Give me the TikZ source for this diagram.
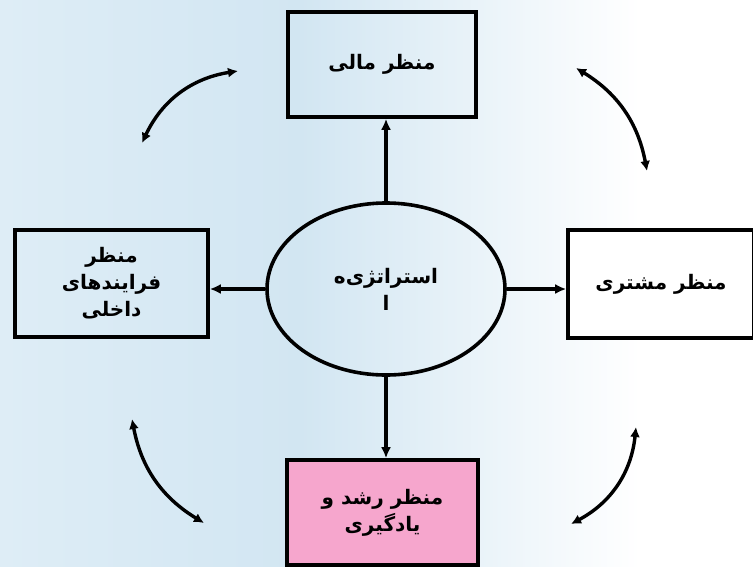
\documentclass[tikz,border=0pt]{standalone}
\usepackage{fontspec}
\newfontfamily\arabicfont[Script=Arabic]{DejaVu Sans}
\TeXXeTstate=1
\usetikzlibrary{shapes.geometric,arrows.meta}
\definecolor{bgblue}{RGB}{210,230,242}
\definecolor{bglight}{RGB}{222,237,246}
\definecolor{pinkbox}{RGB}{246,166,205}
\tikzset{
  persp/.style={draw=black, line width=3.6pt, rectangle, inner sep=0pt, font=\arabicfont\bfseries\fontsize{20}{27}\selectfont, align=center},
  conn/.style={line width=3.2pt, -{Latex[length=11pt,width=10pt]}},
  cyc/.style={line width=3.4pt, {Latex[length=10pt,width=10pt]}-{Latex[length=10pt,width=10pt]}}
}
\begin{document}
\begin{tikzpicture}[x=1pt,y=-1pt]
\useasboundingbox (0,0) rectangle (753,566);
\fill[white] (0,0) rectangle (753,566);
\shade[left color=bglight, right color=bgblue, shading angle=90] (0,0) rectangle (300,566);
\shade[left color=bgblue, right color=white, shading angle=90] (300,0) rectangle (640,566);
% boxes
\node[persp, minimum width=188, minimum height=105] (fin) at (382,64.5) {\beginR منظر مالی\endR};
\node[persp, minimum width=193, minimum height=107] (int) at (111.5,283.5) {\beginR منظر\endR\\\beginR فرایندهای\endR\\\beginR داخلی\endR};
\node[persp, fill=white, minimum width=186, minimum height=108] (cus) at (661,284) {\beginR منظر مشتری\endR};
\node[persp, fill=pinkbox, minimum width=191, minimum height=105] (lrn) at (382.5,512.5) {\beginR منظر رشد و\endR\\\beginR یادگیری\endR};
% center
\node[ellipse, draw=black, line width=3.6pt, minimum width=238, minimum height=172, inner sep=0pt, font=\arabicfont\bfseries\fontsize{20}{27}\selectfont, align=center] (str) at (386,289) {\beginR استراتژی‌ه\endR\\\beginR ا\endR};
% connectors
\draw[conn] (str.north) -- (str.north |- fin.south);
\draw[conn] (str.west) -- (str.west -| int.east);
\draw[conn] (str.east) -- (str.east -| cus.west);
\draw[conn] (str.south) -- (str.south |- lrn.north);
% cycle arrows
\coordinate (a1) at (142,143); \coordinate (a2) at (238,71);
\coordinate (b1) at (576,68); \coordinate (b2) at (647,171);
\coordinate (c1) at (132,419); \coordinate (c2) at (204,523);
\coordinate (d1) at (571,524); \coordinate (d2) at (636,427);
\draw[cyc] (a1) to[bend left=28] (a2);
\draw[cyc] (b1) to[bend left=24] (b2);
\draw[cyc] (c1) to[bend right=24] (c2);
\draw[cyc] (d1) to[bend right=28] (d2);
\end{tikzpicture}
\end{document}
